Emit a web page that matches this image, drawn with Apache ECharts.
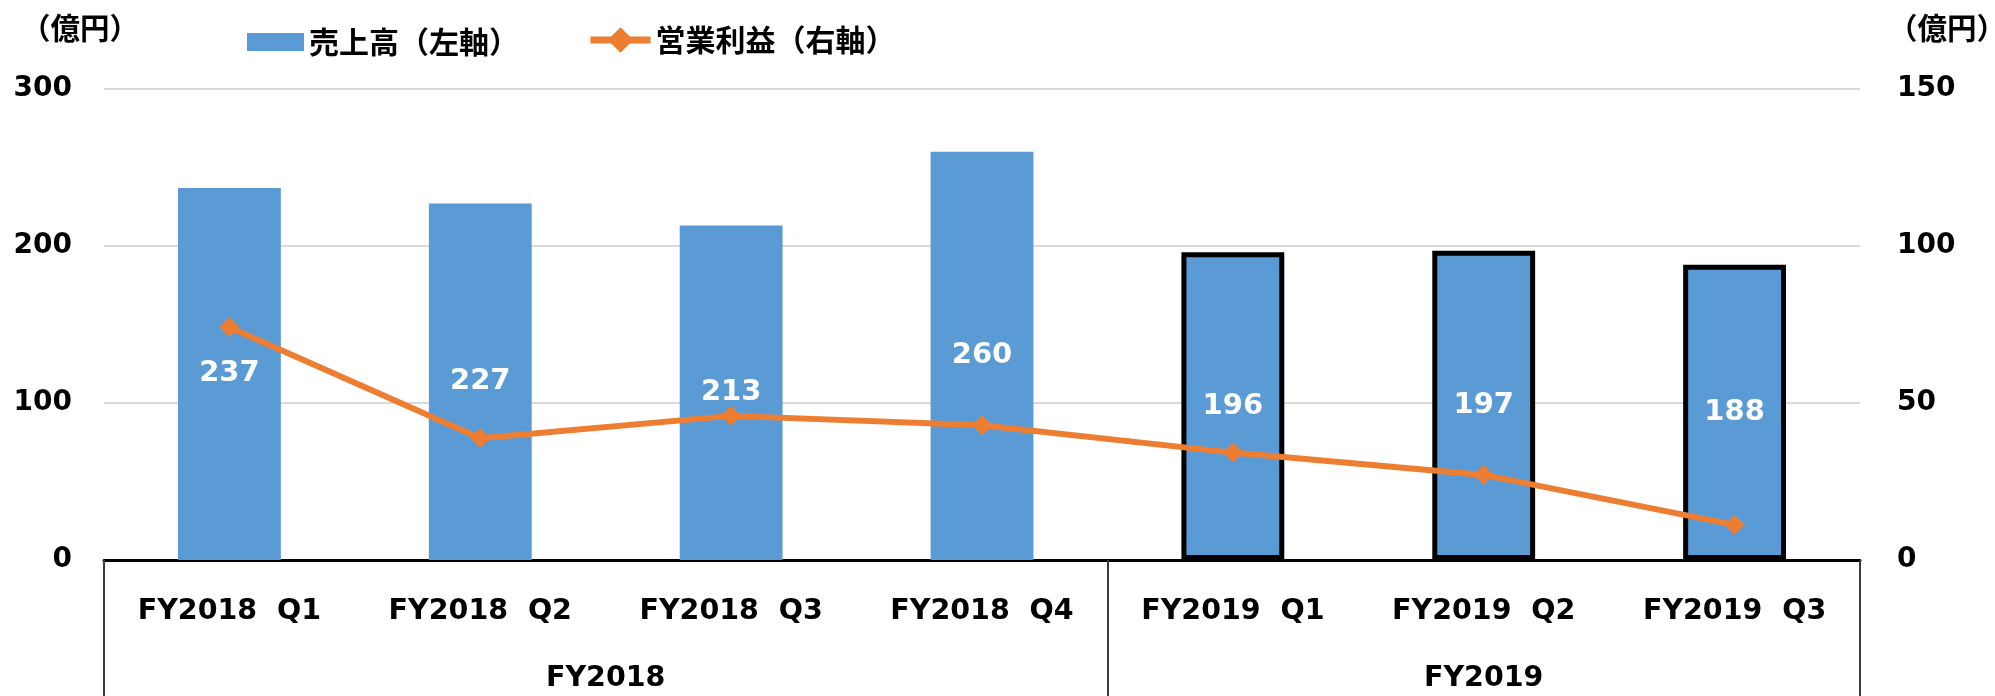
<!DOCTYPE html>
<html>
<head>
<meta charset="utf-8">
<style>
html,body{margin:0;padding:0;background:#fff;}
#chart{width:1995px;height:696px;}
</style>
<script src="https://cdn.jsdelivr.net/npm/echarts@6/dist/echarts.min.js"></script>
</head>
<body>
<div id="chart"></div>
<script>
const categories = ['FY2018  Q1','FY2018  Q2','FY2018  Q3','FY2018  Q4','FY2019  Q1','FY2019  Q2','FY2019  Q3'];
const sales = [237, 227, 213, 260, 196, 197, 188];
const profit = [74.1, 38.8, 45.9, 42.9, 34.2, 27.1, 11.2];
const outlined = [false, false, false, false, true, true, true];
const groupLabels = ['FY2018', 'FY2019'];
const groupCenters = [2, 5.5];
const groupBounds = [0, 4, 7];
const leftTicks = [0, 100, 200, 300];
const rightTicks = [0, 50, 100, 150];
const unitLabel = '（億円）';
const salesName = '売上高（左軸）';
const profitName = '営業利益（右軸）';

const numFont = "'DejaVu Sans', sans-serif";
const cjkFont = "'Noto Sans CJK JP', sans-serif";

const chart = echarts.init(document.getElementById('chart'), null, {renderer: 'canvas'});

const legendText = {fontFamily: cjkFont, fontSize: 30, fontWeight: 'bold', color: '#000'};

const option = {
  backgroundColor: '#ffffff',
  animation: false,
  grid: {left: 104, right: 135, top: 89, bottom: 136, containLabel: false, outerBoundsMode: 'none'},
  legend: [
    {
      left: 242, top: 22,
      itemWidth: 57, itemHeight: 18,
      textStyle: legendText,
      data: [{name: salesName, icon: 'rect'}]
    },
    {
      left: 582, top: 20,
      itemWidth: 60, itemHeight: 32,
      textStyle: legendText,
      lineStyle: {width: 7},
      data: [{name: profitName}]
    }
  ],
  graphic: [
    {type: 'text', x: 21, y: 28, style: {text: unitLabel, font: "bold 29.5px 'Noto Sans CJK JP'", fill: '#000', textAlign: 'left', textVerticalAlign: 'middle'}},
    {type: 'text', x: 2006, y: 28, style: {text: unitLabel, font: "bold 29.5px 'Noto Sans CJK JP'", fill: '#000', textAlign: 'right', textVerticalAlign: 'middle'}}
  ],
  xAxis: [
    {
      type: 'category', data: categories, boundaryGap: true,
      axisLine: {show: true, lineStyle: {color: '#000', width: 3}},
      axisTick: {show: false},
      axisLabel: {margin: 37, fontFamily: numFont, fontSize: 28.5, fontWeight: 'bold', color: '#000', interval: 0},
      splitLine: {show: false}
    },
    {
      type: 'value', min: 0, max: 7, position: 'bottom',
      axisLine: {show: false},
      axisTick: {show: true, customValues: groupBounds, length: 140, lineStyle: {color: '#3a3a3a', width: 2}},
      axisLabel: {
        customValues: groupCenters, margin: 104,
        fontFamily: numFont, fontSize: 28.5, fontWeight: 'bold', color: '#000',
        formatter: function (v) { const i = groupCenters.indexOf(v); return i >= 0 ? groupLabels[i] : ''; }
      },
      splitLine: {show: false}
    }
  ],
  yAxis: [
    {
      type: 'value', min: leftTicks[0], max: leftTicks[leftTicks.length - 1], interval: 100,
      axisLine: {show: false}, axisTick: {show: false},
      axisLabel: {margin: 32, fontFamily: numFont, fontSize: 28, fontWeight: 'bold', color: '#000'},
      splitLine: {show: true, lineStyle: {color: '#d9d9d9', width: 2}}
    },
    {
      type: 'value', min: rightTicks[0], max: rightTicks[rightTicks.length - 1], interval: 50, position: 'right',
      axisLine: {show: false}, axisTick: {show: false},
      axisLabel: {margin: 37, fontFamily: numFont, fontSize: 28, fontWeight: 'bold', color: '#000'},
      splitLine: {show: false}
    }
  ],
  series: [
    {
      name: salesName, type: 'bar', xAxisIndex: 0, yAxisIndex: 0, barWidth: '41%',
      itemStyle: {color: '#5b9bd5'},
      data: sales.map((v, i) => outlined[i]
        ? {value: v, itemStyle: {color: '#5b9bd5', borderColor: '#000', borderWidth: 5}}
        : {value: v}),
      label: {show: true, position: 'inside', color: '#fff', fontFamily: numFont, fontSize: 29, fontWeight: 'bold'},
      z: 2
    },
    {
      name: profitName, type: 'line', xAxisIndex: 0, yAxisIndex: 1,
      data: profit,
      symbol: 'diamond', symbolSize: 20,
      lineStyle: {color: '#ed7d31', width: 6},
      itemStyle: {color: '#ed7d31'},
      z: 5
    }
  ]
};
chart.setOption(option);
</script>
</body>
</html>
